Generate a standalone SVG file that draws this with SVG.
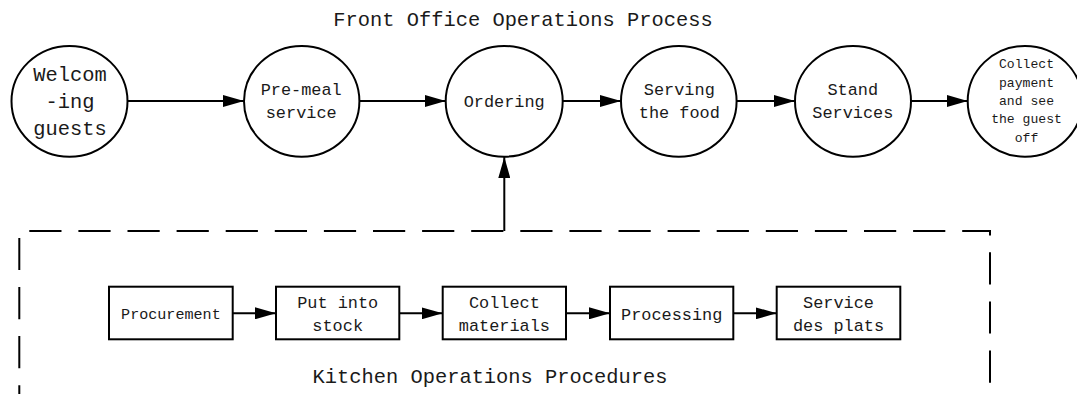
<svg xmlns="http://www.w3.org/2000/svg" width="1077" height="394" viewBox="0 0 1077 394">
<style>
  .node { fill: #ffffff; stroke: #000000; stroke-width: 2; }
  .conn { fill: none; stroke: #000000; stroke-width: 2; }
  .dash { fill: none; stroke: #000000; stroke-width: 2; stroke-dasharray: 32.2 16.9; stroke-dashoffset: -2.6; }
  text { font-family: "Liberation Mono", "DejaVu Sans Mono", monospace; fill: #1a1a1a; text-anchor: middle; }
  .t20 { font-size: 20.4px; }
  .t17 { font-size: 16.9px; }
  .t15 { font-size: 15.1px; }
  .t13 { font-size: 13.1px; }
</style>
<defs>
  <marker id="arrow" markerUnits="userSpaceOnUse" markerWidth="21" markerHeight="12" refX="21" refY="6" orient="auto">
    <path d="M0,0 L21,6 L0,12 Z" fill="#000000"/>
  </marker>
</defs>
<rect x="0" y="0" width="1077" height="394" fill="#ffffff"/>

<text class="t20" x="523" y="26">Front Office Operations Process</text>
<text class="t20" x="490" y="382.7">Kitchen Operations Procedures</text>

<g id="kitchen-boundary">
  <path class="dash" d="M19.3,420 V231 H990 V420"/>
</g>

<g id="connectors">
  <line class="conn" x1="127.5" y1="101" x2="244" y2="101" marker-end="url(#arrow)"/>
  <line class="conn" x1="359.4" y1="101" x2="445.7" y2="101" marker-end="url(#arrow)"/>
  <line class="conn" x1="562.7" y1="101" x2="621" y2="101" marker-end="url(#arrow)"/>
  <line class="conn" x1="736.6" y1="101" x2="795" y2="101" marker-end="url(#arrow)"/>
  <line class="conn" x1="911" y1="101" x2="967.7" y2="101" marker-end="url(#arrow)"/>
  <line class="conn" x1="504.3" y1="231" x2="504.3" y2="157" marker-end="url(#arrow)"/>
  <line class="conn" x1="232.7" y1="313.3" x2="276" y2="313.3" marker-end="url(#arrow)"/>
  <line class="conn" x1="399.3" y1="313.3" x2="442.7" y2="313.3" marker-end="url(#arrow)"/>
  <line class="conn" x1="566" y1="313.3" x2="610" y2="313.3" marker-end="url(#arrow)"/>
  <line class="conn" x1="733.3" y1="313.3" x2="776.7" y2="313.3" marker-end="url(#arrow)"/>
</g>

<g id="welcoming-guests">
  <ellipse class="node" cx="69.5" cy="101.3" rx="58" ry="55.4"/>
  <text class="t20" x="70" y="80.7">Welcom</text>
  <text class="t20" x="70" y="108">-ing</text>
  <text class="t20" x="70" y="135">guests</text>
</g>

<g id="pre-meal-service">
  <ellipse class="node" cx="301.7" cy="101.3" rx="57.7" ry="55.4"/>
  <text class="t17" x="301.2" y="95">Pre-meal</text>
  <text class="t17" x="301.2" y="118.3">service</text>
</g>

<g id="ordering">
  <ellipse class="node" cx="504.2" cy="101.3" rx="58.5" ry="55.4"/>
  <text class="t17" x="504.2" y="106.8">Ordering</text>
</g>

<g id="serving-the-food">
  <ellipse class="node" cx="678.8" cy="101.3" rx="57.8" ry="55.4"/>
  <text class="t17" x="679.3" y="95">Serving</text>
  <text class="t17" x="679.3" y="118.3">the food</text>
</g>

<g id="stand-services">
  <ellipse class="node" cx="853" cy="101.3" rx="58" ry="55.4"/>
  <text class="t17" x="852.8" y="95">Stand</text>
  <text class="t17" x="852.8" y="118.3">Services</text>
</g>

<g id="collect-payment">
  <ellipse class="node" cx="1025" cy="101.3" rx="57.3" ry="55.4"/>
  <text class="t13" x="1026.5" y="68.3">Collect</text>
  <text class="t13" x="1026.5" y="86.6">payment</text>
  <text class="t13" x="1026.5" y="104.9">and see</text>
  <text class="t13" x="1026.5" y="123.2">the guest</text>
  <text class="t13" x="1026.5" y="141.5">off</text>
</g>

<g id="procurement">
  <rect class="node" x="109" y="286.7" width="123.7" height="52.6"/>
  <text class="t15" x="170.9" y="319">Procurement</text>
</g>

<g id="put-into-stock">
  <rect class="node" x="276" y="286.7" width="123.3" height="52.6"/>
  <text class="t17" x="337.7" y="307.7">Put into</text>
  <text class="t17" x="337.7" y="330.7">stock</text>
</g>

<g id="collect-materials">
  <rect class="node" x="442.7" y="286.7" width="123.3" height="52.6"/>
  <text class="t17" x="504.4" y="307.7">Collect</text>
  <text class="t17" x="504.4" y="330.7">materials</text>
</g>

<g id="processing">
  <rect class="node" x="610" y="286.7" width="123.3" height="52.6"/>
  <text class="t17" x="671.7" y="319.5">Processing</text>
</g>

<g id="service-des-plats">
  <rect class="node" x="776.7" y="286.7" width="123.6" height="52.6"/>
  <text class="t17" x="838.5" y="307.7">Service</text>
  <text class="t17" x="838.5" y="330.7">des plats</text>
</g>
</svg>
